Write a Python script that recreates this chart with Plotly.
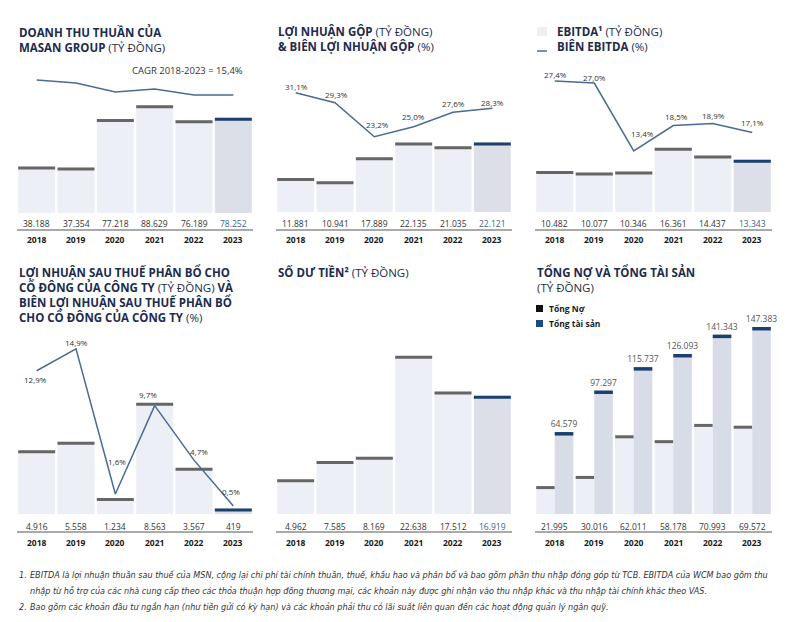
import plotly.graph_objects as go

# ---------------- data ----------------
years = ["2018", "2019", "2020", "2021", "2022", "2023"]
revenue = [38188, 37354, 77218, 88629, 76189, 78252]
revenue_trend = [109300, 106900, 99500, 101900, 97000, 97000]  # unlabelled trend line
cagr_text = "CAGR 2018-2023 = 15,4%"
gross_profit = [11881, 10941, 17889, 22135, 21035, 22121]
gross_margin = [31.1, 29.3, 23.2, 25.0, 27.6, 28.3]
ebitda = [10482, 10077, 10346, 16361, 14437, 13343]
ebitda_margin = [27.4, 27.0, 13.4, 18.5, 18.9, 17.1]
npat = [4916, 5558, 1234, 8563, 3567, 419]
npat_margin = [12.9, 14.9, 1.6, 9.7, 4.7, 0.5]
cash = [4962, 7585, 8169, 22638, 17512, 16919]
total_debt = [21995, 30016, 62011, 58178, 70993, 69572]
total_assets = [64579, 97297, 115737, 126093, 141343, 147383]

# ---------------- style ----------------
W, H = 800, 622
FONT = "Open Sans"
NAVY = "#1d2b4e"
LINE = "#4a6b94"
LIGHT = "#eceff6"
DARK_BAR = "#dcdfe8"
ASSET_BAR = "#d8dce6"
CAP_GRAY = "#666666"
CAP_BLUE = "#1b3f6f"
TXT = "#333333"
BLUE_TXT = "#3d5f91"

xpos = list(range(len(years)))  # category slots


def fx(p):
    return p / W


def fy(p):
    return 1 - p / H


def fmt_int(v):
    return f"{v:,}".replace(",", ".")


def fmt_pct(v):
    return f"{v:.1f}".replace(".", ",") + "%"


# panel geometry (pixels) and value scale (units per pixel)
panels = {
    1: dict(x0=17, x1=253, B=213, T=60, v0=0, s=822, vrow=224, yrow=240, rule=230),
    2: dict(x0=276, x1=512, B=212, T=60, v0=2000, s=290, vrow=224, yrow=240, rule=230),
    3: dict(x0=535, x1=772, B=212, T=60, v0=0, s=255, vrow=224, yrow=240, rule=230),
    4: dict(x0=17, x1=253, B=514, T=330, v0=0, s=77, vrow=526, yrow=542, rule=532),
    5: dict(x0=276, x1=512, B=514, T=330, v0=0, s=143, vrow=526, yrow=542, rule=532),
    6: dict(x0=535, x1=772, B=514, T=300, v0=0, s=788, vrow=526, yrow=542, rule=532),
}
# secondary (margin %) axes: id -> (base panel, value at baseline, units per pixel)
line_axes = {7: (2, 9.695, 0.1795), 8: (3, 1.2, 0.2), 9: (4, -0.2385, 0.0917)}

fig = go.Figure()
layout = dict(
    width=W, height=H, margin=dict(l=0, r=0, t=0, b=0),
    paper_bgcolor="white", plot_bgcolor="white",
    barmode="overlay", showlegend=False,
    font=dict(family=FONT, color=TXT),
)


def axname(i, kind):
    return kind if i == 1 else f"{kind}{i}"


hidden = dict(showgrid=False, zeroline=False, showticklabels=False, showline=False,
              ticks="", fixedrange=True)

for i, p in panels.items():
    layout[f"xaxis{'' if i == 1 else i}"] = dict(
        domain=[fx(p["x0"]), fx(p["x1"])], anchor=axname(i, "y"),
        type="linear", range=[-0.5, len(years) - 0.5], **hidden)
    layout[f"yaxis{'' if i == 1 else i}"] = dict(
        domain=[fy(p["B"]), fy(p["T"])], anchor=axname(i, "x"),
        range=[p["v0"], p["v0"] + (p["B"] - p["T"]) * p["s"]], **hidden)
for j, (base, v0, s) in line_axes.items():
    p = panels[base]
    layout[f"yaxis{j}"] = dict(
        domain=[fy(p["B"]), fy(p["T"])], anchor=axname(base, "x"),
        overlaying=axname(base, "y"),
        range=[v0, v0 + (p["B"] - p["T"]) * s], **hidden)


def add_bars(i, values, width=0.94, offset=None, fill=None, cap=None, cap_px=3,
             text=None):
    p = panels[i]
    c = cap_px * p["s"]
    fill = fill or [LIGHT] * 5 + [DARK_BAR]
    cap = cap or [CAP_GRAY] * 5 + [CAP_BLUE]
    kw = dict(xaxis=axname(i, "x"), yaxis=axname(i, "y"), width=width,
              hoverinfo="skip")
    if offset is not None:
        kw["offset"] = offset
    bar = go.Bar(x=xpos, y=values, marker=dict(color=fill, line=dict(width=0)), **kw)
    if text is not None:
        bar.update(text=text, textposition="outside", cliponaxis=False,
                   constraintext="none",
                   textfont=dict(size=8.5, color="#555555", family=FONT))
    fig.add_trace(bar)
    fig.add_trace(go.Bar(x=xpos, y=[c] * len(values),
                         base=[v - c for v in values],
                         marker=dict(color=cap, line=dict(width=0)), **kw))


add_bars(1, revenue)
add_bars(2, gross_profit)
add_bars(3, ebitda)
add_bars(4, npat)
add_bars(5, cash)
add_bars(6, total_debt, width=0.47, offset=-0.47, fill=[LIGHT] * 6,
         cap=[CAP_GRAY] * 6)
add_bars(6, total_assets, width=0.47, offset=0.0, fill=[ASSET_BAR] * 6,
         cap=[CAP_BLUE] * 6, cap_px=3.5,
         text=[fmt_int(v) for v in total_assets])

# lines
fig.add_trace(go.Scatter(x=xpos, y=revenue_trend, mode="lines", xaxis="x", yaxis="y",
                         line=dict(color=LINE, width=1.5), hoverinfo="skip"))
for j, vals in [(7, gross_margin), (8, ebitda_margin), (9, npat_margin)]:
    base = line_axes[j][0]
    fig.add_trace(go.Scatter(x=xpos, y=vals, mode="lines", xaxis=axname(base, "x"),
                             yaxis=f"y{j}", line=dict(color=LINE, width=1.5),
                             hoverinfo="skip"))

ann = []
shapes = []

# value rows, year rows, rules
row_values = {1: revenue, 2: gross_profit, 3: ebitda, 4: npat, 5: cash, 6: total_debt}
last_blue = {1: True, 2: True, 3: True, 4: False, 5: True, 6: False}
for i, p in panels.items():
    for k, (yr, v) in enumerate(zip(years, row_values[i])):
        col = BLUE_TXT if (k == len(years) - 1 and last_blue[i]) else TXT
        ann.append(dict(x=xpos[k], xref=axname(i, "x"), y=fy(p["vrow"]), yref="paper",
                        text=fmt_int(v), showarrow=False, yanchor="middle",
                        font=dict(size=8.5, color=col, family=FONT)))
        ann.append(dict(x=xpos[k], xref=axname(i, "x"), y=fy(p["yrow"]), yref="paper",
                        text=f"<b>{yr}</b>", showarrow=False, yanchor="middle",
                        font=dict(size=8.5, color="#1a1a1a", family=FONT)))
    shapes.append(dict(type="line", xref="paper", yref="paper",
                       x0=fx(p["x0"]), x1=fx(p["x1"]), y0=fy(p["rule"]), y1=fy(p["rule"]),
                       line=dict(color="#555555", width=1)))

# margin labels (pixel nudges per label are styling)
label_nudges = {
    7: ([6, 8, 12, 10, 9, 6], [1, 1, 3, 0, 0, 0]),
    8: ([7, 6, 18, 9, 8, 10], [1, 0, 9, 3, 1, 0]),
    9: ([-9, 6, 32, 11, 9, 14], [-1, 0, 2, -7, 5, -2]),
}
for j, vals in [(7, gross_margin), (8, ebitda_margin), (9, npat_margin)]:
    base = line_axes[j][0]
    ys, xs = label_nudges[j]
    for k, (v, dy, dx) in enumerate(zip(vals, ys, xs)):
        ann.append(dict(x=xpos[k], xref=axname(base, "x"), y=v, yref=f"y{j}",
                        text=fmt_pct(v), showarrow=False, yanchor="middle",
                        yshift=dy, xshift=dx,
                        font=dict(size=8, color=TXT, family=FONT)))

# CAGR note
ann.append(dict(x=fx(245), y=fy(71), xref="paper", yref="paper", text=cagr_text,
                showarrow=False, xanchor="right", yanchor="middle",
                font=dict(size=9.5, color=TXT, family=FONT)))

# titles
tfont = dict(size=11.5, color=NAVY, family=FONT)
titles = [
    (17, 22, "<b>DOANH THU THUẦN CỦA</b><br><b>MASAN GROUP</b> (TỶ ĐỒNG)"),
    (276, 22, "<b>LỢI NHUẬN GỘP</b> (TỶ ĐỒNG)<br><b>&amp; BIÊN LỢI NHUẬN GỘP</b> (%)"),
    (555, 22, "<b>EBITDA¹</b> (TỶ ĐỒNG)<br><b>BIÊN EBITDA</b> (%)"),
    (17, 262, "<b>LỢI NHUẬN SAU THUẾ PHÂN BỔ CHO</b><br><b>CỔ ĐÔNG CỦA CÔNG TY</b> (TỶ ĐỒNG) <b>VÀ</b>"
              "<br><b>BIÊN LỢI NHUẬN SAU THUẾ PHÂN BỔ</b><br><b>CHO CỔ ĐÔNG CỦA CÔNG TY</b> (%)"),
    (276, 262, "<b>SỐ DƯ TIỀN²</b> (TỶ ĐỒNG)"),
    (535, 262, "<b>TỔNG NỢ VÀ TỔNG TÀI SẢN</b><br>(TỶ ĐỒNG)"),
]
for x, y, t in titles:
    ann.append(dict(x=fx(x), y=fy(y), xref="paper", yref="paper", text=t,
                    showarrow=False, xanchor="left", yanchor="top", align="left",
                    font=tfont))

# EBITDA legend swatches
shapes.append(dict(type="rect", xref="paper", yref="paper", x0=fx(537), x1=fx(547),
                   y0=fy(36), y1=fy(27), fillcolor=LIGHT, line=dict(width=0)))
shapes.append(dict(type="line", xref="paper", yref="paper", x0=fx(537), x1=fx(547),
                   y0=fy(51), y1=fy(51), line=dict(color=LINE, width=1.5)))

# debt/assets legend
shapes.append(dict(type="rect", xref="paper", yref="paper", x0=fx(536), x1=fx(543),
                   y0=fy(312), y1=fy(305), fillcolor="#111111", line=dict(width=0)))
shapes.append(dict(type="rect", xref="paper", yref="paper", x0=fx(536), x1=fx(543),
                   y0=fy(327), y1=fy(320), fillcolor="#1a4a80", line=dict(width=0)))
for y, t in [(309, "Tổng Nợ"), (323.5, "Tổng tài sản")]:
    ann.append(dict(x=fx(547), y=fy(y), xref="paper", yref="paper", text=f"<b>{t}</b>",
                    showarrow=False, xanchor="left", yanchor="middle",
                    font=dict(size=8.5, color="#1a1a1a", family=FONT)))

# footnotes
notes = [
    (17, 28, 575, "1.", "EBITDA là lợi nhuận thuần sau thuế của MSN, cộng lại chi phí tài chính thuần, thuế, khấu hao và phân bổ và bao gồm phần thu nhập đóng góp từ TCB. EBITDA của WCM bao gồm thu"),
    (None, 28, 591, "", "nhập từ hỗ trợ của các nhà cung cấp theo các thỏa thuận hợp đồng thương mại, các khoản này được ghi nhận vào thu nhập khác và thu nhập tài chính khác theo VAS."),
    (17, 28, 607, "2.", "Bao gồm các khoản đầu tư ngắn hạn (như tiền gửi có kỳ hạn) và các khoản phải thu có lãi suất liên quan đến các hoạt động quản lý ngân quỹ."),
]
nfont = dict(size=8.1, color="#333333", family="DejaVu Sans")
for xn, xt, y, num, t in notes:
    if xn is not None:
        ann.append(dict(x=fx(xn), y=fy(y), xref="paper", yref="paper", text=f"<i>{num}</i>",
                        showarrow=False, xanchor="left", yanchor="middle", font=nfont))
    ann.append(dict(x=fx(xt), y=fy(y), xref="paper", yref="paper", text=f"<i>{t}</i>",
                    showarrow=False, xanchor="left", yanchor="middle", font=nfont))

layout["annotations"] = ann
layout["shapes"] = shapes
fig.update_layout(**layout)
fig.write_html("out.html", config={"displayModeBar": False},
               post_script="document.body.style.margin='0';document.body.style.padding='0';")
